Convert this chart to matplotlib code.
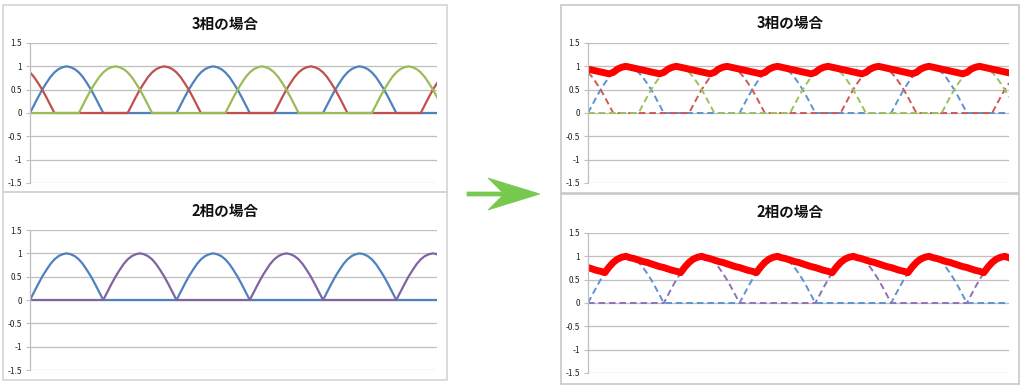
import matplotlib
matplotlib.use("Agg")
import matplotlib.pyplot as plt
from matplotlib.patches import Rectangle, Polygon
import numpy as np

plt.rcParams['font.family'] = ['Noto Sans CJK JP', 'DejaVu Sans']

# ---------------- data (sampled every 10 degrees, 0..1000) ----------------
phase_a = [
    0, .17, .34, .5, .64, .77, .87, .94, .98, 1, .98, .94, .87, .77, .64, .5, .34, .17, 0,
    0, 0, 0, 0, 0, 0, 0, 0, 0, 0, 0, 0, 0, 0, 0, 0, 0,
    0, .17, .34, .5, .64, .77, .87, .94, .98, 1, .98, .94, .87, .77, .64, .5, .34, .17, 0,
    0, 0, 0, 0, 0, 0, 0, 0, 0, 0, 0, 0, 0, 0, 0, 0, 0,
    0, .17, .34, .5, .64, .77, .87, .94, .98, 1, .98, .94, .87, .77, .64, .5, .34, .17, 0,
    0, 0, 0, 0, 0, 0, 0, 0, 0, 0,
]
phase_b = [
    .87, .77, .64, .5, .34, .17, 0,
    0, 0, 0, 0, 0, 0, 0, 0, 0, 0, 0, 0, 0, 0, 0, 0, 0,
    0, .17, .34, .5, .64, .77, .87, .94, .98, 1, .98, .94, .87, .77, .64, .5, .34, .17, 0,
    0, 0, 0, 0, 0, 0, 0, 0, 0, 0, 0, 0, 0, 0, 0, 0, 0,
    0, .17, .34, .5, .64, .77, .87, .94, .98, 1, .98, .94, .87, .77, .64, .5, .34, .17, 0,
    0, 0, 0, 0, 0, 0, 0, 0, 0, 0, 0, 0, 0, 0, 0, 0, 0,
    0, .17, .34, .5, .64,
]
phase_c = [
    0, 0, 0, 0, 0, 0, 0, 0, 0, 0, 0, 0,
    0, .17, .34, .5, .64, .77, .87, .94, .98, 1, .98, .94, .87, .77, .64, .5, .34, .17, 0,
    0, 0, 0, 0, 0, 0, 0, 0, 0, 0, 0, 0, 0, 0, 0, 0, 0,
    0, .17, .34, .5, .64, .77, .87, .94, .98, 1, .98, .94, .87, .77, .64, .5, .34, .17, 0,
    0, 0, 0, 0, 0, 0, 0, 0, 0, 0, 0, 0, 0, 0, 0, 0, 0,
    0, .17, .34, .5, .64, .77, .87, .94, .98, 1, .98, .94, .87, .77, .64, .5, .34,
]
phase_d = [
    0, 0, 0, 0, 0, 0, 0, 0, 0, 0, 0, 0, 0, 0, 0, 0, 0, 0,
    0, .17, .34, .5, .64, .77, .87, .94, .98, 1, .98, .94, .87, .77, .64, .5, .34, .17, 0,
    0, 0, 0, 0, 0, 0, 0, 0, 0, 0, 0, 0, 0, 0, 0, 0, 0,
    0, .17, .34, .5, .64, .77, .87, .94, .98, 1, .98, .94, .87, .77, .64, .5, .34, .17, 0,
    0, 0, 0, 0, 0, 0, 0, 0, 0, 0, 0, 0, 0, 0, 0, 0, 0,
    0, .17, .34, .5, .64, .77, .87, .94, .98, 1, .98,
]
envelope_3 = [
    .94, .92, .90, .88, .86, .84, .87, .94, .98, 1,
    .98, .96, .94, .92, .90, .88, .86, .84, .87, .94, .98, 1,
    .98, .96, .94, .92, .90, .88, .86, .84, .87, .94, .98, 1,
    .98, .96, .94, .92, .90, .88, .86, .84, .87, .94, .98, 1,
    .98, .96, .94, .92, .90, .88, .86, .84, .87, .94, .98, 1,
    .98, .96, .94, .92, .90, .88, .86, .84, .87, .94, .98, 1,
    .98, .96, .94, .92, .90, .88, .86, .84, .87, .94, .98, 1,
    .98, .96, .94, .92, .90, .88, .86, .84, .87, .94, .98, 1,
    .98, .96, .94, .92, .90, .88, .86,
]
envelope_2 = [
    .76, .73, .70, .68, .65, .77, .87, .94, .98, 1,
    .97, .95, .92, .89, .87, .84, .81, .78, .76, .73, .70, .68, .65, .77, .87, .94, .98, 1,
    .97, .95, .92, .89, .87, .84, .81, .78, .76, .73, .70, .68, .65, .77, .87, .94, .98, 1,
    .97, .95, .92, .89, .87, .84, .81, .78, .76, .73, .70, .68, .65, .77, .87, .94, .98, 1,
    .97, .95, .92, .89, .87, .84, .81, .78, .76, .73, .70, .68, .65, .77, .87, .94, .98, 1,
    .97, .95, .92, .89, .87, .84, .81, .78, .76, .73, .70, .68, .65, .77, .87, .94, .98, 1,
    .97,
]
y_ticks = [1.5, 1, 0.5, 0, -0.5, -1, -1.5]
y_tick_labels = ['1.5', '1', '0.5', '0', '-0.5', '-1', '-1.5']
title_3 = '3相の場合'
title_2 = '2相の場合'

# ---------------- styles ----------------
BLUE, RED, GREEN, PURPLE = '#4F81BD', '#C0504D', '#9BBB59', '#8064A2'
D_BLUE, D_RED, D_GREEN, D_PURPLE = '#5B93D3', '#CC5A57', '#9BC15A', '#8F72B5'
GRID = '#BFBFBF'
W, H = 1024, 389

fig = plt.figure(figsize=(W / 100, H / 100), dpi=100)
fig.patch.set_facecolor('white')


def rect(x0, y0, x1, y1):
    return [x0 / W, 1 - y1 / H, (x1 - x0) / W, (y1 - y0) / H]


# panel frames
for (x0, y0, x1, y1), col in [((3, 5, 447, 192), '#D4D4D4'), ((3, 192, 447, 380), '#D4D4D4'),
                              ((561, 5, 1019, 193), '#C8C8C8'), ((561, 194, 1019, 384), '#C8C8C8')]:
    r = rect(x0, y0, x1, y1)
    fig.patches.append(Rectangle((r[0], r[1]), r[2], r[3], transform=fig.transFigure,
                                 fill=False, edgecolor=col, lw=1.2))


def style(ax):
    ax.set_xlim(0, len(phase_a) - 1)
    ax.set_ylim(-1.5, 1.5)
    ax.set_xticks([])
    ax.set_yticks(y_ticks)
    ax.set_yticklabels(y_tick_labels)
    for s in ['top', 'right', 'bottom']:
        ax.spines[s].set_visible(False)
    ax.spines['left'].set_color(GRID)
    ax.spines['left'].set_linewidth(0.9)
    ax.grid(axis='y', color=GRID, lw=0.9)
    ax.set_axisbelow(True)
    ax.tick_params(axis='y', length=3, width=0.8, color=GRID, labelsize=6,
                   labelcolor='#222222', pad=3)
    ax.patch.set_alpha(0)


x = np.arange(len(phase_a))

# left top: 3 phase
ax1 = fig.add_axes(rect(30, 43, 437, 183))
style(ax1)
for d, c in [(phase_a, BLUE), (phase_b, RED), (phase_c, GREEN)]:
    ax1.plot(x, d, color=c, lw=1.6)

# left bottom: 2 phase
ax2 = fig.add_axes(rect(30, 230, 437, 370))
style(ax2)
for d, c in [(phase_a, BLUE), (phase_d, PURPLE)]:
    ax2.plot(x, d, color=c, lw=1.6)

# right top
ax3 = fig.add_axes(rect(588, 43, 1009, 183))
style(ax3)
for d, c in [(phase_a, D_BLUE), (phase_b, D_RED), (phase_c, D_GREEN)]:
    ax3.plot(x, d, color=c, lw=1.4, dashes=(3.4, 2.0))
ax3.plot(x, envelope_3, color='#FF0000', lw=5, solid_joinstyle='round')

# right bottom
ax4 = fig.add_axes(rect(588, 233, 1009, 373))
style(ax4)
for d, c in [(phase_a, D_BLUE), (phase_d, D_PURPLE)]:
    ax4.plot(x, d, color=c, lw=1.4, dashes=(3.4, 2.0))
ax4.plot(x, envelope_2, color='#FF0000', lw=5, solid_joinstyle='round')

# titles
for (cx, cy), t in [((225, 23.5), title_3), ((225, 211), title_2),
                    ((790, 22.5), title_3), ((790, 212), title_2)]:
    fig.text(cx / W, 1 - cy / H, t, ha='center', va='center', fontsize=10.5,
             fontweight='bold', color='#111111')

# green arrow
pts = [(467, 192), (502, 192), (488, 178), (540, 194), (488, 210), (502, 196), (467, 196)]
fig.patches.append(Polygon([(px / W, 1 - py / H) for px, py in pts], closed=True,
                           transform=fig.transFigure, facecolor='#78C850',
                           edgecolor='#78C850', lw=0.5))

fig.savefig('out.png', dpi=100, facecolor='white')
